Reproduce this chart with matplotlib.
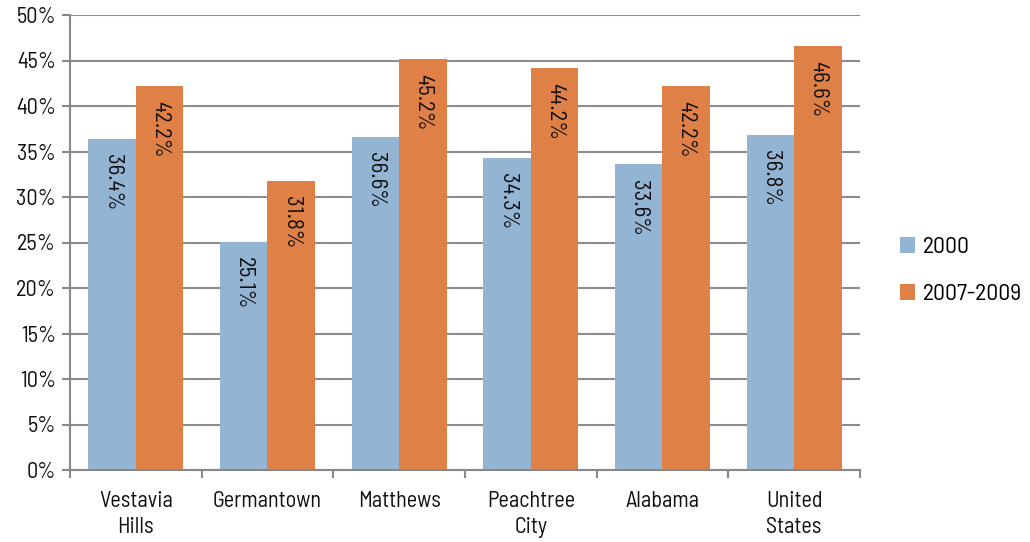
import matplotlib
matplotlib.use('Agg')
import matplotlib.pyplot as plt
import matplotlib.ticker as mticker
import numpy as np

places = ['Vestavia\nHills', 'Germantown', 'Matthews', 'Peachtree\nCity', 'Alabama', 'United\nStates']
share_2000 = [36.4, 25.1, 36.6, 34.3, 33.6, 36.8]
share_2007_09 = [42.2, 31.8, 45.2, 44.2, 42.2, 46.6]
series_names = ['2000', '2007-2009']

plt.rcParams['font.family'] = ['Barlow Semi Condensed', 'DejaVu Sans']

fig = plt.figure(figsize=(10.3, 5.42), dpi=100)
ax = fig.add_axes([70 / 1030, 72 / 542, 790 / 1030, 455 / 542])

x = np.arange(len(places))
w = 0.36
b1 = ax.bar(x - w / 2, share_2000, w, color='#94B4D4', label=series_names[0])
b2 = ax.bar(x + w / 2, share_2007_09, w, color='#DF8047', label=series_names[1])

# value labels run downward from just under each bar top
for bars, vals in ((b1, share_2000), (b2, share_2007_09)):
    for bar, v in zip(bars, vals):
        ax.annotate(f'{v:.1f}%', (bar.get_x() + bar.get_width() / 2, v),
                    xytext=(0, -11), textcoords='offset points',
                    rotation=270, ha='center', va='top', fontsize=16.5, color='#111111')

ax.set_xlim(-0.5, len(places) - 0.5)
ax.set_ylim(0, 50)
ax.yaxis.set_major_locator(mticker.MultipleLocator(5))
ax.yaxis.set_major_formatter(mticker.FuncFormatter(lambda v, p: f'{v:.0f}%'))
ax.set_xticks(x)
ax.set_xticklabels(places, fontsize=16, linespacing=1.3, color='#111111')
ax.set_xticks(np.arange(len(places) + 1) - 0.5, minor=True)
ax.tick_params(axis='x', which='major', length=0, pad=15)
ax.tick_params(axis='x', which='minor', length=6, color='#888888', width=1.5)
ax.tick_params(axis='y', length=6, color='#888888', width=1.5, labelsize=16, labelcolor='#111111', pad=4)
ax.grid(axis='y', color='#8c8c8c', linewidth=1.5)
ax.set_axisbelow(True)
for s in ['top', 'right']:
    ax.spines[s].set_visible(False)
for s in ['left', 'bottom']:
    ax.spines[s].set_color('#888888')
    ax.spines[s].set_linewidth(1.5)

fig.legend(loc='center left', bbox_to_anchor=(900 / 1030, 1 - 271 / 542), frameon=False,
           borderaxespad=0, borderpad=0,
           fontsize=17, handlelength=0.65, handleheight=0.65, handletextpad=0.3, labelspacing=1.1)

fig.savefig('out.png', dpi=100)
